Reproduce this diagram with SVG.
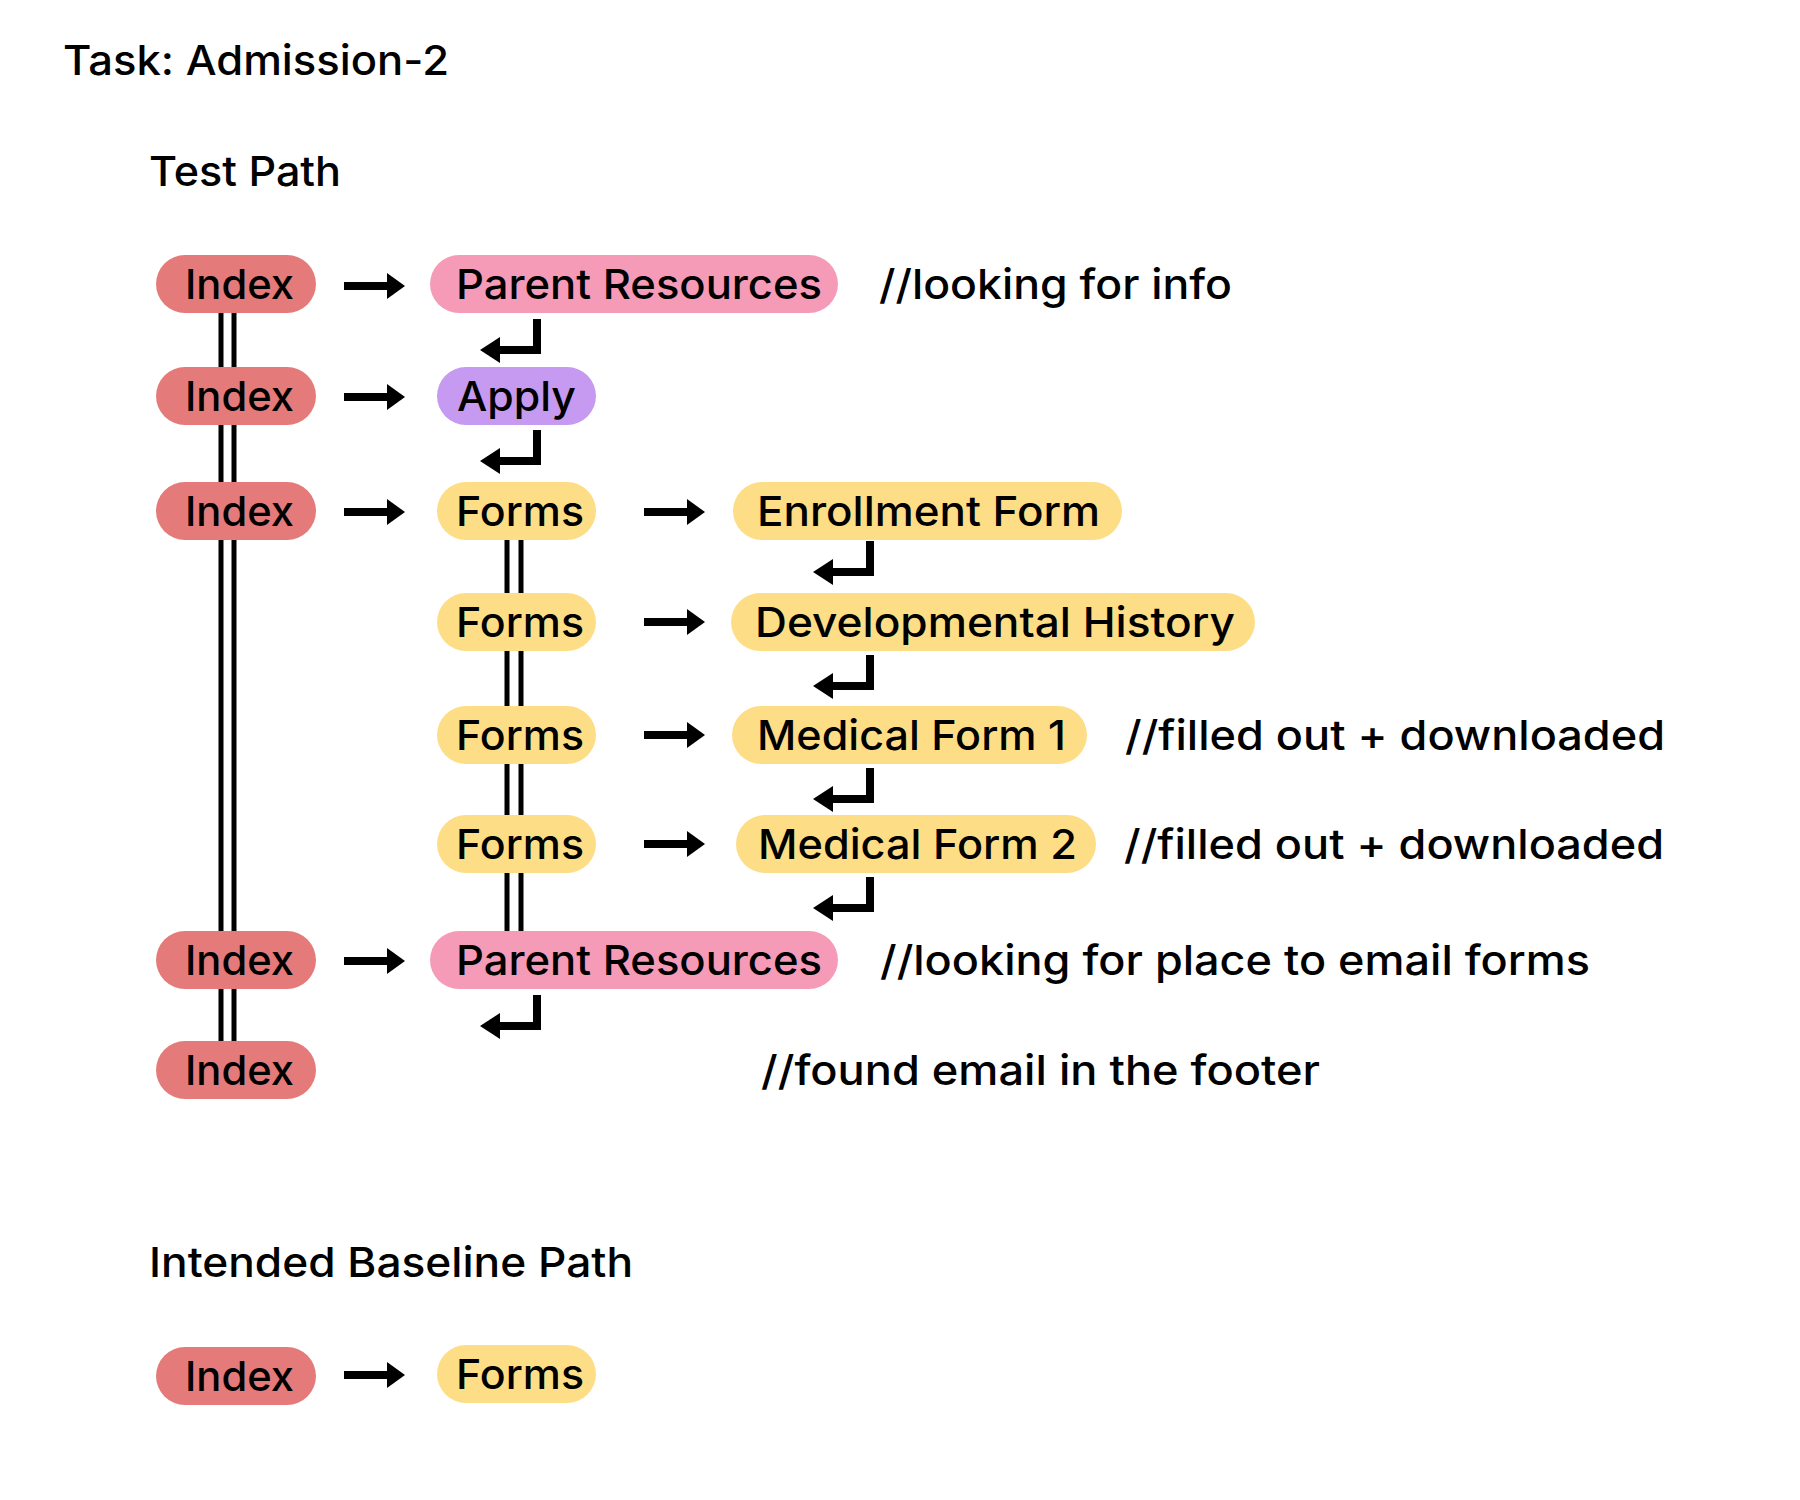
<svg xmlns="http://www.w3.org/2000/svg" xmlns:xlink="http://www.w3.org/1999/xlink" width="1800" height="1500" viewBox="0 0 1800 1500">
<style>
  text { font-family: Inter, "Noto Sans", "Liberation Sans", sans-serif; font-size: 41px; font-weight: 500; fill: #000; }
  .index { fill: #E57A7A; }
  .pink { fill: #F59BB8; }
  .purple { fill: #C59AF0; }
  .yellow { fill: #FDDE86; }
  .dbl { stroke: #000; stroke-width: 5; fill: none; }
</style>
<defs>
  <g id="arrow">
    <rect x="0" y="-4" width="45" height="8" fill="#000"/>
    <polygon points="43,-13 61,0 43,13" fill="#000"/>
  </g>
  <g id="ret">
    <rect x="-4" y="-31" width="8" height="35" fill="#000"/>
    <rect x="-40" y="-4" width="44" height="8" fill="#000"/>
    <polygon points="-57,0 -37,-13 -37,13" fill="#000"/>
  </g>
</defs>
<rect width="1800" height="1500" fill="#fff"/>

<g id="titles">
  <text x="63" y="75" textLength="386" lengthAdjust="spacingAndGlyphs">Task: Admission-2</text>
  <text x="149" y="186" textLength="192" lengthAdjust="spacingAndGlyphs">Test Path</text>
  <text x="149" y="1277" textLength="484" lengthAdjust="spacingAndGlyphs">Intended Baseline Path</text>
</g>

<g id="connectors">
  <path class="dbl" d="M221,307 V373 M234,307 V373"/>
  <path class="dbl" d="M221,419 V488 M234,419 V488"/>
  <path class="dbl" d="M221,533 V938 M234,533 V938"/>
  <path class="dbl" d="M221,984 V1047 M234,984 V1047"/>
  <path class="dbl" d="M507,533 V599 M521,533 V599"/>
  <path class="dbl" d="M507,645 V712 M521,645 V712"/>
  <path class="dbl" d="M507,758 V821 M521,758 V821"/>
  <path class="dbl" d="M507,867 V937 M521,867 V937"/>
  <use xlink:href="#arrow" x="344" y="286"/>
  <use xlink:href="#arrow" x="344" y="397"/>
  <use xlink:href="#arrow" x="344" y="512"/>
  <use xlink:href="#arrow" x="644" y="512"/>
  <use xlink:href="#arrow" x="644" y="622"/>
  <use xlink:href="#arrow" x="644" y="735"/>
  <use xlink:href="#arrow" x="644" y="844"/>
  <use xlink:href="#arrow" x="344" y="961"/>
  <use xlink:href="#arrow" x="344" y="1375"/>
  <use xlink:href="#ret" x="537" y="350"/>
  <use xlink:href="#ret" x="537" y="461"/>
  <use xlink:href="#ret" x="870" y="572"/>
  <use xlink:href="#ret" x="870" y="686"/>
  <use xlink:href="#ret" x="870" y="799"/>
  <use xlink:href="#ret" x="870" y="908"/>
  <use xlink:href="#ret" x="537" y="1026"/>
</g>

<g id="n-index1"><rect class="index" x="156" y="255" width="160" height="58" rx="29"/><text x="185" y="299" textLength="109" lengthAdjust="spacingAndGlyphs">Index</text></g>
<g id="n-parent1"><rect class="pink" x="430" y="255" width="408" height="58" rx="29"/><text x="456" y="299" textLength="366" lengthAdjust="spacingAndGlyphs">Parent Resources</text></g>
<g id="c-1"><text x="879" y="299" textLength="353" lengthAdjust="spacingAndGlyphs">//looking for info</text></g>

<g id="n-index2"><rect class="index" x="156" y="367" width="160" height="58" rx="29"/><text x="185" y="411" textLength="109" lengthAdjust="spacingAndGlyphs">Index</text></g>
<g id="n-apply"><rect class="purple" x="437" y="367" width="159" height="58" rx="29"/><text x="457" y="411" textLength="119" lengthAdjust="spacingAndGlyphs">Apply</text></g>

<g id="n-index3"><rect class="index" x="156" y="482" width="160" height="58" rx="29"/><text x="185" y="526" textLength="109" lengthAdjust="spacingAndGlyphs">Index</text></g>
<g id="n-forms1"><rect class="yellow" x="437" y="482" width="159" height="58" rx="29"/><text x="456" y="526" textLength="128" lengthAdjust="spacingAndGlyphs">Forms</text></g>
<g id="n-enroll"><rect class="yellow" x="733" y="482" width="389" height="58" rx="29"/><text x="757" y="526" textLength="343" lengthAdjust="spacingAndGlyphs">Enrollment Form</text></g>

<g id="n-forms2"><rect class="yellow" x="437" y="593" width="159" height="58" rx="29"/><text x="456" y="637" textLength="128" lengthAdjust="spacingAndGlyphs">Forms</text></g>
<g id="n-devhist"><rect class="yellow" x="731" y="593" width="524" height="58" rx="29"/><text x="755" y="637" textLength="480" lengthAdjust="spacingAndGlyphs">Developmental History</text></g>

<g id="n-forms3"><rect class="yellow" x="437" y="706" width="159" height="58" rx="29"/><text x="456" y="750" textLength="128" lengthAdjust="spacingAndGlyphs">Forms</text></g>
<g id="n-med1"><rect class="yellow" x="732" y="706" width="355" height="58" rx="29"/><text x="757" y="750" textLength="309" lengthAdjust="spacingAndGlyphs">Medical Form 1</text></g>
<g id="c-5"><text x="1125" y="750" textLength="540" lengthAdjust="spacingAndGlyphs">//filled out + downloaded</text></g>

<g id="n-forms4"><rect class="yellow" x="437" y="815" width="159" height="58" rx="29"/><text x="456" y="859" textLength="128" lengthAdjust="spacingAndGlyphs">Forms</text></g>
<g id="n-med2"><rect class="yellow" x="736" y="815" width="360" height="58" rx="29"/><text x="758" y="859" textLength="319" lengthAdjust="spacingAndGlyphs">Medical Form 2</text></g>
<g id="c-6"><text x="1124" y="859" textLength="540" lengthAdjust="spacingAndGlyphs">//filled out + downloaded</text></g>

<g id="n-index7"><rect class="index" x="156" y="931" width="160" height="58" rx="29"/><text x="185" y="975" textLength="109" lengthAdjust="spacingAndGlyphs">Index</text></g>
<g id="n-parent2"><rect class="pink" x="430" y="931" width="408" height="58" rx="29"/><text x="456" y="975" textLength="366" lengthAdjust="spacingAndGlyphs">Parent Resources</text></g>
<g id="c-7"><text x="880" y="975" textLength="710" lengthAdjust="spacingAndGlyphs">//looking for place to email forms</text></g>

<g id="n-index8"><rect class="index" x="156" y="1041" width="160" height="58" rx="29"/><text x="185" y="1085" textLength="109" lengthAdjust="spacingAndGlyphs">Index</text></g>
<g id="c-8"><text x="761" y="1085" textLength="559" lengthAdjust="spacingAndGlyphs">//found email in the footer</text></g>

<g id="n-base-index"><rect class="index" x="156" y="1347" width="160" height="58" rx="29"/><text x="185" y="1391" textLength="109" lengthAdjust="spacingAndGlyphs">Index</text></g>
<g id="n-base-forms"><rect class="yellow" x="437" y="1345" width="159" height="58" rx="29"/><text x="456" y="1389" textLength="128" lengthAdjust="spacingAndGlyphs">Forms</text></g>
</svg>
